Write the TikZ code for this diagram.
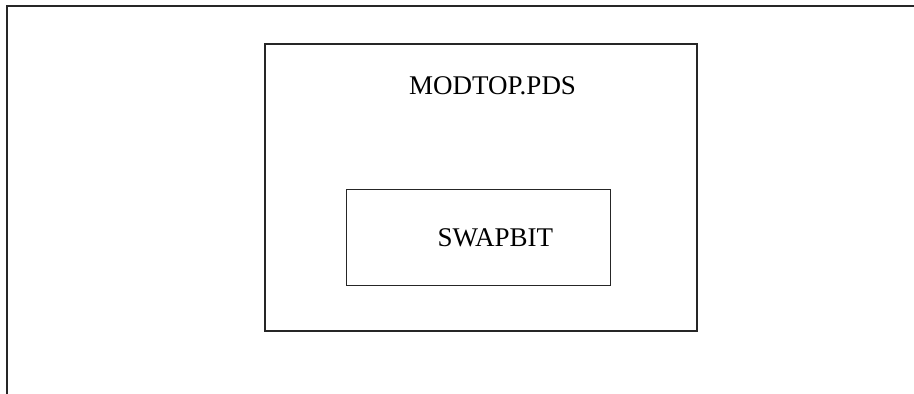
\documentclass[tikz,border=0pt]{standalone}
\usepackage{fontspec}
\setmainfont{Liberation Serif}
\begin{document}
\begin{tikzpicture}[x=1pt,y=-1pt,
  frameline/.style={line width=1.8pt,draw=black!85},
  boxline/.style={draw=black!85,line width=1.1pt,rectangle,inner sep=0pt},
  label/.style={font=\fontsize{27}{31}\selectfont,inner sep=0pt,anchor=base west}]
  \useasboundingbox (0,0) rectangle (914,394);
  % page frame: top edge and left edge
  \coordinate (ftl) at (7,6);
  \coordinate (ftr) at (914,6);
  \coordinate (fbl) at (7,394);
  \draw[frameline] (ftr) -- (ftl) -- (fbl);
  % outer module box
  \node[boxline,minimum width=432pt,minimum height=287pt] (modtop) at (481,187.5) {};
  \node[label] (modtoplbl) at (409,94.3) {MODTOP.PDS};
  % inner module box
  \node[boxline,minimum width=264pt,minimum height=95.5pt] (swapbit) at (478.3,237.5) {};
  \node[label] (swapbitlbl) at (437.3,246) {SWAPBIT};
\end{tikzpicture}
\end{document}
